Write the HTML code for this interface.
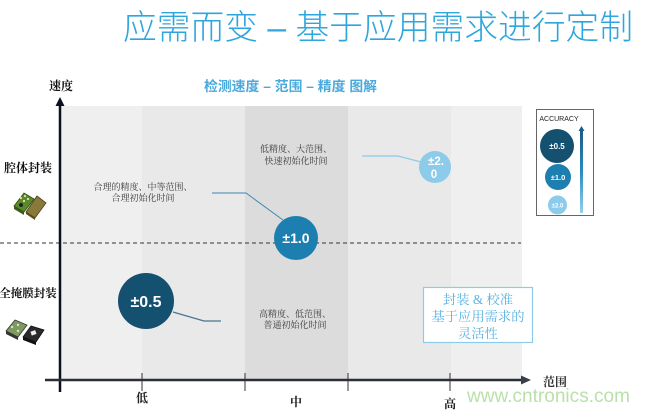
<!DOCTYPE html>
<html><head><meta charset="utf-8"><style>
html,body{margin:0;padding:0;background:#fff;}
svg{display:block;}
.serif{font-family:"Liberation Serif","Noto Serif CJK SC",serif;}
.sans{font-family:"Liberation Sans","Noto Sans CJK SC",sans-serif;}
</style></head><body>
<svg width="650" height="411" viewBox="0 0 650 411" xmlns="http://www.w3.org/2000/svg">
<defs>
<linearGradient id="ag" x1="0" y1="0" x2="0" y2="1">
<stop offset="0" stop-color="#1b5c82"/><stop offset="0.5" stop-color="#2a8cbf"/><stop offset="1" stop-color="#92d0ec"/>
</linearGradient>
</defs>
<!-- title -->
<text x="123" y="39" class="sans" font-size="34" font-weight="300" fill="#2ea6dd" textLength="510" lengthAdjust="spacingAndGlyphs">应需而变 – 基于应用需求进行定制</text>
<!-- subtitle -->
<text x="204" y="91" class="sans" font-size="13.5" font-weight="bold" fill="#4aa9dc" textLength="173" lengthAdjust="spacingAndGlyphs">检测速度 – 范围 – 精度 图解</text>

<!-- bands -->
<rect x="60" y="106" width="82" height="274" fill="#efefef"/>
<rect x="142" y="106" width="103" height="274" fill="#e9e9e9"/>
<rect x="245" y="106" width="103" height="274" fill="#dcdcdc"/>
<rect x="348" y="106" width="103" height="274" fill="#e9e9e9"/>
<rect x="451" y="106" width="71" height="274" fill="#efefef"/>

<!-- dashed line -->
<line x1="0" y1="243" x2="521" y2="243" stroke="#333" stroke-width="1" stroke-dasharray="4,3"/>

<!-- axes -->
<line x1="60" y1="104" x2="60" y2="392" stroke="#0d1020" stroke-width="2.5"/>
<polygon points="60,97 55.5,106 64.5,106" fill="#0d1020"/>
<line x1="45" y1="380" x2="523" y2="380" stroke="#2a2e38" stroke-width="2.5"/>
<polygon points="531,380 521,375.5 521,384.5" fill="#3a3e48"/>
<line x1="142" y1="373" x2="142" y2="391" stroke="#333" stroke-width="1"/>
<line x1="245" y1="373" x2="245" y2="391" stroke="#333" stroke-width="1"/>
<line x1="348" y1="373" x2="348" y2="391" stroke="#333" stroke-width="1"/>
<line x1="450" y1="373" x2="450" y2="391" stroke="#333" stroke-width="1"/>

<!-- axis labels -->
<text x="61" y="90" class="serif" font-size="12" font-weight="bold" fill="#111" text-anchor="middle">速度</text>
<text x="555" y="386" class="serif" font-size="12" font-weight="bold" fill="#333" text-anchor="middle">范围</text>
<text x="142" y="402" class="serif" font-size="12" font-weight="bold" fill="#222" text-anchor="middle">低</text>
<text x="296" y="406" class="serif" font-size="12" font-weight="bold" fill="#222" text-anchor="middle">中</text>
<text x="450" y="408" class="serif" font-size="12" font-weight="bold" fill="#222" text-anchor="middle">高</text>

<!-- left labels -->
<text x="28" y="172" class="serif" font-size="12" font-weight="bold" fill="#111" text-anchor="middle">腔体封装</text>
<text x="28" y="297" class="serif" font-size="11.5" font-weight="bold" fill="#111" text-anchor="middle">全掩膜封装</text>

<!-- cavity chips -->
<g>
<polygon points="14,206 24,193 34,199 24,212" fill="#5b8a2a" stroke="#2e4a12" stroke-width="0.8"/>
<polygon points="14,206 24,212 24,215 14,209" fill="#3a5a18"/>
<circle cx="21" cy="198" r="1.1" fill="#e8e0b0"/><circle cx="25" cy="196" r="1.1" fill="#e8e0b0"/>
<circle cx="28" cy="199" r="1.1" fill="#e8e0b0"/><circle cx="24" cy="201" r="1.1" fill="#e8e0b0"/>
<circle cx="21" cy="205" r="2" fill="#222"/>
<polygon points="26,212 37,196 46,203 35,218" fill="#8a7a3a" stroke="#4a3e18" stroke-width="0.8"/>
<polygon points="26,212 35,218 35,220 26,214" fill="#5a4e20"/>
</g>
<!-- LGA chips -->
<g>
<polygon points="6,331 15,320 27,325 18,337" fill="#7e9a60" stroke="#333" stroke-width="0.8"/>
<polygon points="6,331 18,337 18,340 6,334" fill="#333"/>
<circle cx="12" cy="327" r="1.2" fill="#d8e0c0"/><circle cx="18" cy="325" r="1.2" fill="#d8e0c0"/><circle cx="18" cy="331" r="1.2" fill="#d8e0c0"/>
<polygon points="23,337 31,326 44,330 36,342" fill="#2a2a2a" stroke="#111" stroke-width="0.8"/>
<polygon points="23,337 36,342 36,345 23,340" fill="#111"/>
<rect x="31" y="331" width="5" height="4" fill="#eee" transform="rotate(-20 33 333)"/>
</g>

<!-- leader lines -->
<polyline points="212,193 246,193 283,220" fill="none" stroke="#3b88b2" stroke-width="1"/>
<polyline points="362,156 398,156 421,162" fill="none" stroke="#8ccbea" stroke-width="1.2"/>
<polyline points="173,312 204,321 221,321" fill="none" stroke="#4a7490" stroke-width="1.2"/>

<!-- annotations -->
<g class="serif" font-size="9" fill="#3a3a3a" text-anchor="middle">
<text x="296" y="152">低精度、大范围、</text>
<text x="296" y="164">快速初始化时间</text>
<text x="143" y="190">合理的精度、中等范围、</text>
<text x="143" y="201">合理初始化时间</text>
<text x="295" y="317">高精度、低范围、</text>
<text x="295" y="328">普通初始化时间</text>
</g>

<!-- bubbles -->
<circle cx="296" cy="238" r="22" fill="#1c7fb0"/>
<text x="296" y="243" class="sans" font-size="14" font-weight="bold" fill="#fff" text-anchor="middle">±1.0</text>
<circle cx="435" cy="167" r="16" fill="#8ccbea"/>
<text x="436" y="165" class="sans" font-size="11.5" font-weight="bold" fill="#fff" text-anchor="middle">±2.</text>
<text x="434" y="178" class="sans" font-size="11.5" font-weight="bold" fill="#fff" text-anchor="middle">0</text>
<circle cx="146" cy="301" r="28" fill="#14506f"/>
<text x="146" y="307" class="sans" font-size="16" font-weight="bold" fill="#fff" text-anchor="middle">±0.5</text>

<!-- flexibility box -->
<rect x="423.5" y="287.5" width="109" height="55" fill="#fff" stroke="#8ccbea" stroke-width="1.2"/>
<g class="serif" font-size="13.3" fill="#5ab2e2" text-anchor="middle">
<text x="478" y="304">封装 &amp; 校准</text>
<text x="478" y="321">基于应用需求的</text>
<text x="478" y="338">灵活性</text>
</g>

<!-- accuracy legend -->
<rect x="536.5" y="109.5" width="57" height="106" fill="#fff" stroke="#666" stroke-width="1"/>
<text x="559" y="121" class="sans" font-size="7" fill="#222" text-anchor="middle">ACCURACY</text>
<circle cx="557" cy="146" r="17" fill="#14506f"/>
<text x="557" y="149" class="sans" font-size="8" font-weight="bold" fill="#fff" text-anchor="middle">±0.5</text>
<circle cx="558" cy="177" r="13" fill="#1c7fb0"/>
<text x="558" y="180" class="sans" font-size="7.5" font-weight="bold" fill="#fff" text-anchor="middle">±1.0</text>
<circle cx="557.5" cy="205" r="9.5" fill="#8ccbea"/>
<text x="557.5" y="207.5" class="sans" font-size="6" font-weight="bold" fill="#fff" text-anchor="middle">±2.0</text>
<rect x="580" y="130" width="3" height="83" fill="url(#ag)"/>
<polygon points="581.5,126 578.5,131 584.5,131" fill="#1b5c82"/>

<!-- watermark -->
<text x="467" y="402" class="sans" font-size="19" fill="#b9e1a9" textLength="163" lengthAdjust="spacingAndGlyphs">www.cntronics.com</text>
</svg>
</body></html>
